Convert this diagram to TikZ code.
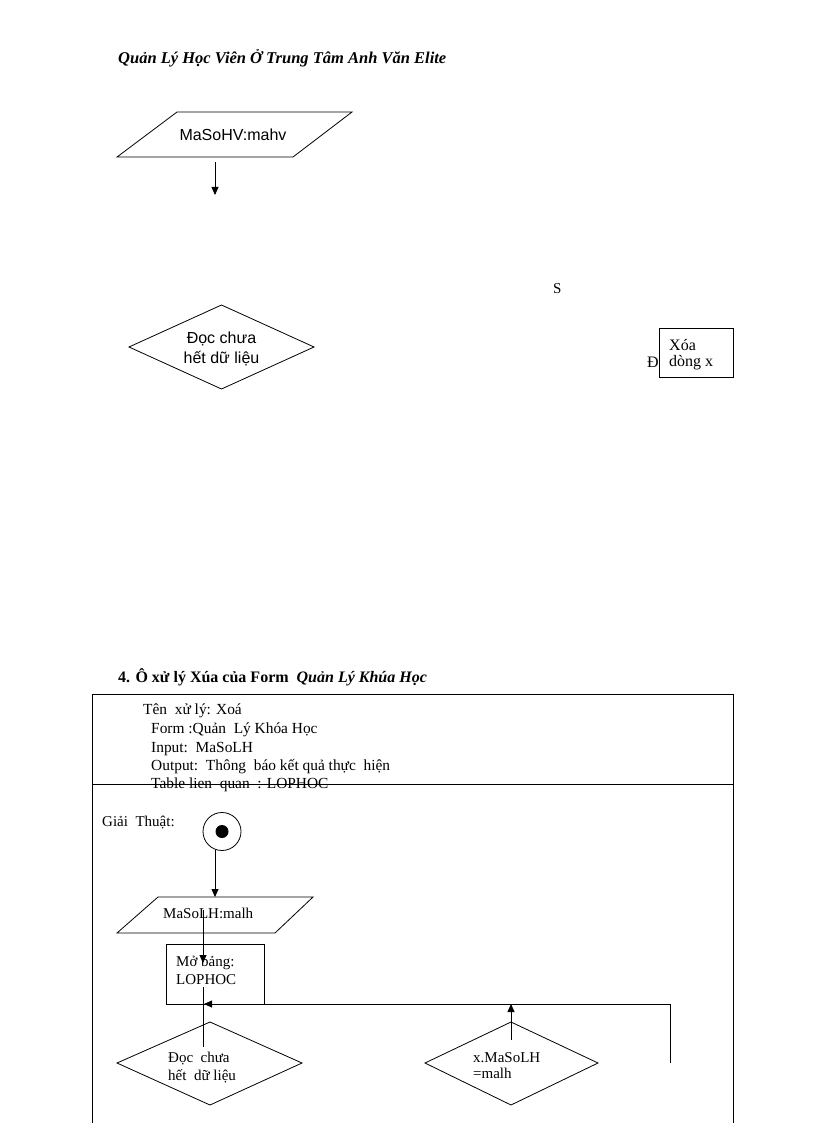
\documentclass[tikz,border=0pt]{standalone}
\usepackage{fontspec}
\setmainfont{Liberation Serif}
\newfontfamily\sansf{Liberation Sans}
\usetikzlibrary{arrows.meta}
\begin{document}
\begin{tikzpicture}[x=1pt,y=-1pt,
  ln/.style={draw=black,line width=0.8pt},
  arr/.style={ln,-{Triangle[length=8pt,width=7pt]}},
  txt/.style={anchor=base west,inner sep=0pt,font=\fontsize{15}{18}\selectfont},
  ltxt/.style={anchor=base west,inner sep=0pt,font=\fontsize{15.4}{18}\selectfont},
  stxt/.style={anchor=base,inner sep=0pt,font=\sansf\fontsize{16}{19}\selectfont},
  head/.style={anchor=base west,inner sep=0pt,font=\fontsize{16}{19}\selectfont\bfseries}]
\useasboundingbox (0,0) rectangle (816,1123);
\fill[white] (0,0) rectangle (816,1123);

% ---------- top part ----------
\node[head,font=\fontsize{16.5}{19}\selectfont\bfseries\itshape] (title) at (118,64) {Quản Lý Học Viên Ở Trung Tâm Anh Văn Elite};

% parallelogram 1
\draw[ln] (177,112) -- (352,112) -- (293,157) -- (117,157) -- cycle;
\node[stxt] (p1) at (233,141) {MaSoHV:mahv};
\coordinate (a1s) at (215,162);
\coordinate (a1e) at (215,195);
\draw[arr] (a1s) -- (a1e);

\node[txt] (S) at (553,293) {S};

% diamond 1
\draw[ln] (129,347) -- (221.5,305) -- (314,347) -- (221.5,389) -- cycle;
\node[stxt] (d1a) at (221.5,343) {Đọc chưa};
\node[stxt] (d1b) at (221.5,363) {hết dữ liệu};

% Xoa box
\node[txt,font=\fontsize{16}{19}\selectfont] (D) at (647,367) {Đ};
\draw[ln,fill=white] (659,328) rectangle (733,377);
\node[txt,font=\fontsize{16}{19}\selectfont] (xa) at (669,350) {Xóa};
\node[txt,font=\fontsize{16}{19}\selectfont] (xb) at (669,366) {dòng x};

% ---------- bottom part ----------
\node[head] (sec) at (118,682) {4. Ô xử lý Xúa của Form\ \ \textit{Quản Lý Khúa Học}};

\draw[ln] (92,1123) -- (92,694) -- (733,694) -- (733,1123);
\draw[ln] (92,784) -- (733,784);

\node[ltxt] (l1) at (143,714) {Tên\ \ xử lý: Xoá};
\node[ltxt] (l2) at (151,733) {Form :Quản\ \ Lý Khóa Học};
\node[ltxt] (l3) at (151,752) {Input:\ \ MaSoLH};
\node[ltxt] (l4) at (151,770) {Output:\ \ Thông\ \ báo kết quả thực\ \ hiện};
\node[ltxt] (l5) at (151,788) {Table lien\ \ quan\ \ : LOPHOC};

\node[txt] (ga) at (102,826) {Giải\ \ Thuật:};

% start
\node[ln,circle,minimum size=38pt,inner sep=0pt] (start) at (222,831.5) {};
\fill (start.center) circle[radius=6.5pt];
\coordinate (a2s) at (215,850);
\coordinate (a2e) at (215,897);
\draw[arr] (a2s) -- (a2e);

% parallelogram 2
\draw[ln] (158,897) -- (313,897) -- (275,933) -- (117,933) -- cycle;
\node[txt] (p2) at (163,918) {MaSoLH:malh};

% rect
\draw[ln] (166,944) rectangle (264,1004);
\node[txt] (r1) at (176,966) {Mở bảng:};
\node[txt] (r2) at (176,984) {LOPHOC};

\coordinate (a3s) at (203,910);
\coordinate (a3e) at (203,963);
\draw[arr] (a3s) -- (a3e);
\coordinate (a4s) at (203,987);
\coordinate (a4e) at (203,1047);
\draw[ln] (a4s) -- (a4e);

% loop back
\coordinate (lpb) at (670,1063);
\coordinate (lpt) at (670,1004);
\coordinate (lpe) at (204,1004);
\draw[arr] (lpb) -- (lpt) -- (lpe);

% diamond 2
\draw[ln] (117,1063) -- (210,1022) -- (302,1063) -- (210,1105) -- cycle;
\node[txt] (d2a) at (168,1062) {Đọc\ \ chưa};
\node[txt] (d2b) at (168,1080) {hết\ \ dữ liệu};

% diamond 3
\draw[ln] (425,1063) -- (511,1022) -- (598,1063) -- (511,1105) -- cycle;
\node[txt] (d3a) at (473,1062) {x.MaSoLH};
\node[txt] (d3b) at (473,1078) {=malh};
\coordinate (a5s) at (511,1040);
\coordinate (a5e) at (511,1004);
\draw[arr] (a5s) -- (a5e);
\end{tikzpicture}
\end{document}
